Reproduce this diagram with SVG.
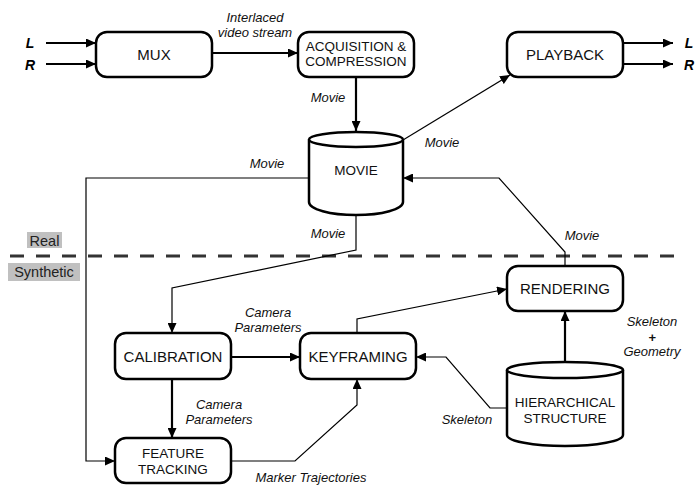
<svg xmlns="http://www.w3.org/2000/svg" width="695" height="486" viewBox="0 0 695 486">
<style>
.box{fill:#fff;stroke:#000;stroke-width:2.5}
.t{font-family:"Liberation Sans",Arial,sans-serif;font-size:15px;fill:#111;text-anchor:middle}
.ts{font-family:"Liberation Sans",Arial,sans-serif;font-size:13.5px;fill:#111;text-anchor:middle}
.l{font-family:"Liberation Sans",Arial,sans-serif;font-size:13px;font-style:italic;fill:#111;text-anchor:middle}
.lr{font-family:"Liberation Sans",Arial,sans-serif;font-size:14px;font-style:italic;font-weight:bold;fill:#000;text-anchor:middle}
.thick{fill:none;stroke:#000;stroke-width:2.2}
.thin{fill:none;stroke:#000;stroke-width:1.2}
.tag{font-family:"Liberation Sans",Arial,sans-serif;font-size:14.5px;fill:#222;text-anchor:middle}
</style>
<defs>
<marker id="ah" viewBox="0 0 10 10" refX="10" refY="5" markerWidth="10" markerHeight="9" markerUnits="userSpaceOnUse" orient="auto" preserveAspectRatio="none">
<path d="M0,0 L10,5 L0,10 z" fill="#000"/>
</marker>
</defs>
<rect x="0" y="0" width="695" height="486" fill="#fff"/>

<g id="divider">
<line x1="10" y1="256" x2="682" y2="256" stroke="#333" stroke-width="3" stroke-dasharray="14 12"/>
<rect x="27" y="232" width="35" height="16" fill="#c0c0c0"/>
<text class="tag" x="44.5" y="246">Real</text>
<rect x="8" y="263" width="72" height="18" fill="#c0c0c0"/>
<text class="tag" x="44" y="277">Synthetic</text>
</g>

<g id="connectors">
<line class="thick" x1="46" y1="43" x2="96" y2="43" marker-end="url(#ah)"/>
<line class="thick" x1="46" y1="64" x2="96" y2="64" marker-end="url(#ah)"/>
<line class="thick" x1="212" y1="53" x2="298" y2="53" marker-end="url(#ah)"/>
<line class="thick" x1="356" y1="77" x2="356" y2="131" marker-end="url(#ah)"/>
<line class="thin" x1="403" y1="140" x2="510" y2="75" marker-end="url(#ah)"/>
<line class="thick" x1="623" y1="43" x2="673" y2="43" marker-end="url(#ah)"/>
<line class="thick" x1="623" y1="64" x2="673" y2="64" marker-end="url(#ah)"/>
<polyline class="thin" points="309,178 86,178 86,461 115,461" marker-end="url(#ah)"/>
<polyline class="thin" points="356,215 356,250 172,288 172,333" marker-end="url(#ah)"/>
<polyline class="thin" points="565,266 565,252 499,178 403,178" marker-end="url(#ah)"/>
<line class="thick" x1="231" y1="357" x2="300" y2="357" marker-end="url(#ah)"/>
<line class="thick" x1="172" y1="379" x2="172" y2="438" marker-end="url(#ah)"/>
<polyline class="thin" points="231,461 295,461 357,405 357,379" marker-end="url(#ah)"/>
<polyline class="thin" points="357,333 357,319 507,289" marker-end="url(#ah)"/>
<line class="thick" x1="565" y1="362" x2="565" y2="311" marker-end="url(#ah)"/>
<polyline class="thin" points="507,408 490,408 446,357 416,357" marker-end="url(#ah)"/>
</g>

<g id="labels">
<text class="lr" x="30" y="48">L</text>
<text class="lr" x="30" y="70">R</text>
<text class="lr" x="689" y="48">L</text>
<text class="lr" x="689" y="70">R</text>
<text class="l" x="255" y="22">Interlaced</text>
<text class="l" x="255" y="37">video stream</text>
<text class="l" x="328" y="102">Movie</text>
<text class="l" x="442" y="147">Movie</text>
<text class="l" x="267" y="168">Movie</text>
<text class="l" x="328" y="238">Movie</text>
<text class="l" x="582" y="240">Movie</text>
<text class="l" x="268" y="317">Camera</text>
<text class="l" x="268" y="332">Parameters</text>
<text class="l" x="219" y="409">Camera</text>
<text class="l" x="219" y="424">Parameters</text>
<text class="l" x="311" y="482">Marker Trajectories</text>
<text class="l" x="467" y="424">Skeleton</text>
<text class="l" x="652" y="326">Skeleton</text>
<text class="l" x="652" y="342" font-style="normal" font-weight="bold">+</text>
<text class="l" x="652" y="356">Geometry</text>
</g>

<g id="mux">
<rect class="box" x="96" y="32" width="116" height="45" rx="11"/>
<text class="t" x="154" y="60">MUX</text>
</g>
<g id="acquisition">
<rect class="box" x="298" y="32" width="116" height="45" rx="11"/>
<text class="ts" x="356" y="51">ACQUISITION &amp;</text>
<text class="ts" x="356" y="66">COMPRESSION</text>
</g>
<g id="playback">
<rect class="box" x="507" y="32" width="116" height="45" rx="11"/>
<text class="t" x="565" y="60">PLAYBACK</text>
</g>
<g id="movie">
<path class="box" d="M309,139.5 L309,202 A47,13 0 0 0 403,202 L403,139.5"/>
<ellipse class="box" cx="356" cy="139.5" rx="47" ry="7.5"/>
<text class="ts" x="356" y="175">MOVIE</text>
</g>
<g id="rendering">
<rect class="box" x="507" y="266" width="116" height="45" rx="11"/>
<text class="t" x="565" y="294">RENDERING</text>
</g>
<g id="calibration">
<rect class="box" x="115" y="333" width="116" height="46" rx="11"/>
<text class="t" x="173" y="362">CALIBRATION</text>
</g>
<g id="keyframing">
<rect class="box" x="300" y="333" width="116" height="46" rx="11"/>
<text class="t" x="358" y="362">KEYFRAMING</text>
</g>
<g id="feature-tracking">
<rect class="box" x="115" y="438" width="116" height="45" rx="11"/>
<text class="ts" x="173" y="458">FEATURE</text>
<text class="ts" x="173" y="474">TRACKING</text>
</g>
<g id="hierarchical-structure">
<path class="box" d="M507,370 L507,435 A58,11 0 0 0 623,435 L623,370"/>
<ellipse class="box" cx="565" cy="370" rx="58" ry="8"/>
<text class="ts" x="565" y="407">HIERARCHICAL</text>
<text class="ts" x="565" y="423">STRUCTURE</text>
</g>
</svg>
